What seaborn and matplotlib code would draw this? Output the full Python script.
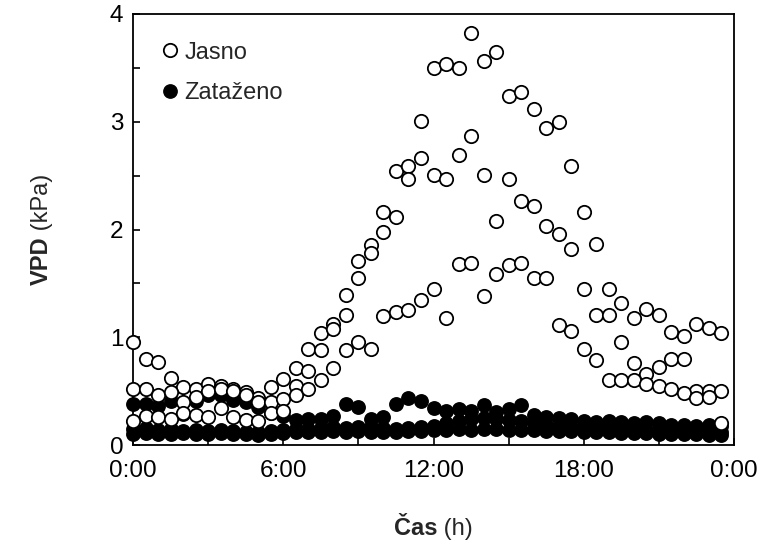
import numpy as np
import pandas as pd
import matplotlib
matplotlib.use("Agg")
import matplotlib.pyplot as plt
import seaborn as sns
from matplotlib.ticker import MultipleLocator, FixedLocator, FixedFormatter
from matplotlib.lines import Line2D

# ---- data: half-hourly VPD (kPa), three clear and three overcast days ----
hours = np.arange(48) * 0.5

jasno_1 = [0.96, 0.80, 0.77, 0.62, 0.54, 0.52, 0.57, 0.55, 0.52, 0.49, 0.44, 0.54,
           0.61, 0.71, 0.89, 1.04, 1.12, 1.39, 1.71, 1.86, 2.16, 2.54, 2.59, 3.01,
           3.50, 3.54, 3.50, 3.82, 3.56, 3.65, 3.24, 3.28, 3.12, 2.94, 3.00, 2.59,
           2.16, 1.87, 1.45, 1.32, 1.18, 1.26, 1.21, 1.05, 1.01, 1.12, 1.09, 1.04]
jasno_2 = [0.52, 0.52, 0.46, 0.49, 0.40, 0.45, 0.50, 0.52, 0.50, 0.46, 0.40, 0.40,
           0.43, 0.55, 0.69, 0.88, 1.08, 1.21, 1.55, 1.78, 1.98, 2.12, 2.47, 2.66,
           2.51, 2.47, 2.69, 2.87, 2.51, 2.08, 2.47, 2.26, 2.22, 2.03, 1.96, 1.82,
           1.45, 1.21, 1.21, 0.96, 0.76, 0.66, 0.72, 0.80, 0.80, 0.50, 0.50, 0.50]
jasno_3 = [0.22, 0.27, 0.26, 0.24, 0.30, 0.28, 0.26, 0.34, 0.26, 0.23, 0.22, 0.30,
           0.32, 0.46, 0.52, 0.60, 0.71, 0.88, 0.96, 0.89, 1.20, 1.23, 1.25, 1.35,
           1.45, 1.18, 1.68, 1.69, 1.38, 1.59, 1.67, 1.69, 1.55, 1.55, 1.11, 1.06,
           0.89, 0.79, 0.60, 0.60, 0.60, 0.57, 0.55, 0.52, 0.48, 0.44, 0.45, 0.20]

zatazeno_1 = [0.38, 0.38, 0.36, 0.41, 0.29, 0.41, 0.46, 0.46, 0.42, 0.40, 0.35, 0.30,
              0.27, 0.23, 0.24, 0.24, 0.27, 0.38, 0.35, 0.24, 0.26, 0.38, 0.44, 0.41,
              0.34, 0.32, 0.33, 0.32, 0.37, 0.31, 0.33, 0.37, 0.28, 0.26, 0.25, 0.24,
              0.22, 0.21, 0.22, 0.21, 0.20, 0.21, 0.20, 0.19, 0.19, 0.18, 0.19, 0.18]
zatazeno_2 = [0.15, 0.16, 0.14, 0.15, 0.13, 0.14, 0.13, 0.14, 0.13, 0.12, 0.12, 0.13,
              0.14, 0.15, 0.15, 0.16, 0.17, 0.16, 0.17, 0.17, 0.16, 0.15, 0.16, 0.17,
              0.18, 0.20, 0.22, 0.24, 0.25, 0.24, 0.23, 0.22, 0.20, 0.19, 0.18, 0.17,
              0.17, 0.16, 0.16, 0.15, 0.15, 0.14, 0.14, 0.13, 0.13, 0.12, 0.12, 0.12]
zatazeno_3 = [0.10, 0.11, 0.10, 0.10, 0.11, 0.10, 0.10, 0.11, 0.10, 0.10, 0.09, 0.10,
              0.11, 0.12, 0.12, 0.12, 0.13, 0.12, 0.13, 0.12, 0.12, 0.12, 0.13, 0.13,
              0.14, 0.14, 0.15, 0.14, 0.15, 0.15, 0.14, 0.14, 0.14, 0.13, 0.13, 0.13,
              0.12, 0.12, 0.12, 0.11, 0.11, 0.11, 0.10, 0.10, 0.10, 0.10, 0.09, 0.09]

x_tick_pos = [0, 6, 12, 18, 24]
x_tick_labels = ["0:00", "6:00", "12:00", "18:00", "0:00"]
y_tick_pos = [0, 1, 2, 3, 4]

series_labels = ["Jasno", "Zataženo"]

frames = []
for cond, days in (("Jasno", [jasno_1, jasno_2, jasno_3]),
                   ("Zataženo", [zatazeno_1, zatazeno_2, zatazeno_3])):
    for i, vals in enumerate(days):
        frames.append(pd.DataFrame({"hour": hours, "vpd": vals,
                                    "cond": cond, "day": i + 1}))
df = pd.concat(frames, ignore_index=True)

# ---- style ----
sns.set_theme(style="white")
plt.rcParams["font.family"] = ["Liberation Sans", "DejaVu Sans"]

W, H = 770, 556
fig = plt.figure(figsize=(W / 100, H / 100), dpi=100)
L, R, T, B = 133, 734, 14, 445
ax = fig.add_axes([L / W, 1 - B / H, (R - L) / W, (B - T) / H])

msize = 92
sns.scatterplot(data=df[df["cond"] == "Zataženo"], x="hour", y="vpd",
                color="black", edgecolor="black", linewidth=1.1, s=msize,
                ax=ax, clip_on=False, zorder=3, legend=False)
sns.scatterplot(data=df[df["cond"] == "Jasno"], x="hour", y="vpd",
                color="white", edgecolor="black", linewidth=1.3, s=msize,
                ax=ax, clip_on=False, zorder=4, legend=False)

tick_fs = 17.5
ax.set_xlim(0, 24)
ax.set_ylim(0, 4)
ax.xaxis.set_major_locator(FixedLocator(x_tick_pos))
ax.xaxis.set_major_formatter(FixedFormatter(x_tick_labels))
ax.xaxis.set_minor_locator(MultipleLocator(3))
ax.yaxis.set_major_locator(FixedLocator(y_tick_pos))
ax.yaxis.set_minor_locator(MultipleLocator(0.5))
ax.tick_params(axis="both", which="both", direction="in", length=5, width=1.2,
               colors="black", top=False, right=False, left=True, bottom=True,
               labelsize=tick_fs)
ax.tick_params(axis="x", which="major", pad=10.5)
ax.tick_params(axis="y", which="major", pad=7)
for s in ax.spines.values():
    s.set_visible(True)
    s.set_color("black")
    s.set_linewidth(1.3)
ax.set_xlabel("")
ax.set_ylabel("")

# legend
h_j = Line2D([], [], marker="o", linestyle="", markersize=9.6,
             markerfacecolor="white", markeredgecolor="black", markeredgewidth=1.3)
h_z = Line2D([], [], marker="o", linestyle="", markersize=9.6,
             markerfacecolor="black", markeredgecolor="black")
ax.legend([h_j, h_z], series_labels, loc="upper left",
          bbox_to_anchor=(0.048, 0.936), frameon=False, fontsize=17,
          handlelength=0.7, handletextpad=0.25, labelspacing=0.8,
          borderpad=0, borderaxespad=0)

# two-part axis labels (bold + regular)
fig.canvas.draw()
rend = fig.canvas.get_renderer()
lab_fs = 17


def part_width(txt, weight, size=lab_fs):
    t = fig.text(0, 0, txt, fontsize=size, fontweight=weight)
    w = t.get_window_extent(rend).width
    t.remove()
    return w


w1 = part_width("Čas", "bold")
w2 = part_width("\u00a0(h)", "normal")
xc = (L + R) / 2
x0 = xc - (w1 + w2) / 2
yb = 535
fig.text(x0 / W, 1 - yb / H, "Čas", fontsize=lab_fs, fontweight="bold",
         ha="left", va="baseline")
fig.text((x0 + w1) / W, 1 - yb / H, "\u00a0(h)", fontsize=lab_fs,
         ha="left", va="baseline")

v1 = part_width("VPD", "bold")
v2 = part_width("\u00a0(kPa)", "normal")
yc = (T + B) / 2
y0 = yc + (v1 + v2) / 2
xb = 48
fig.text(xb / W, 1 - y0 / H, "VPD", fontsize=lab_fs, fontweight="bold",
         rotation=90, rotation_mode="anchor", ha="left", va="baseline")
fig.text(xb / W, 1 - (y0 - v1) / H, "\u00a0(kPa)", fontsize=lab_fs,
         rotation=90, rotation_mode="anchor", ha="left", va="baseline")

fig.savefig("out.png", dpi=100, facecolor="white")
